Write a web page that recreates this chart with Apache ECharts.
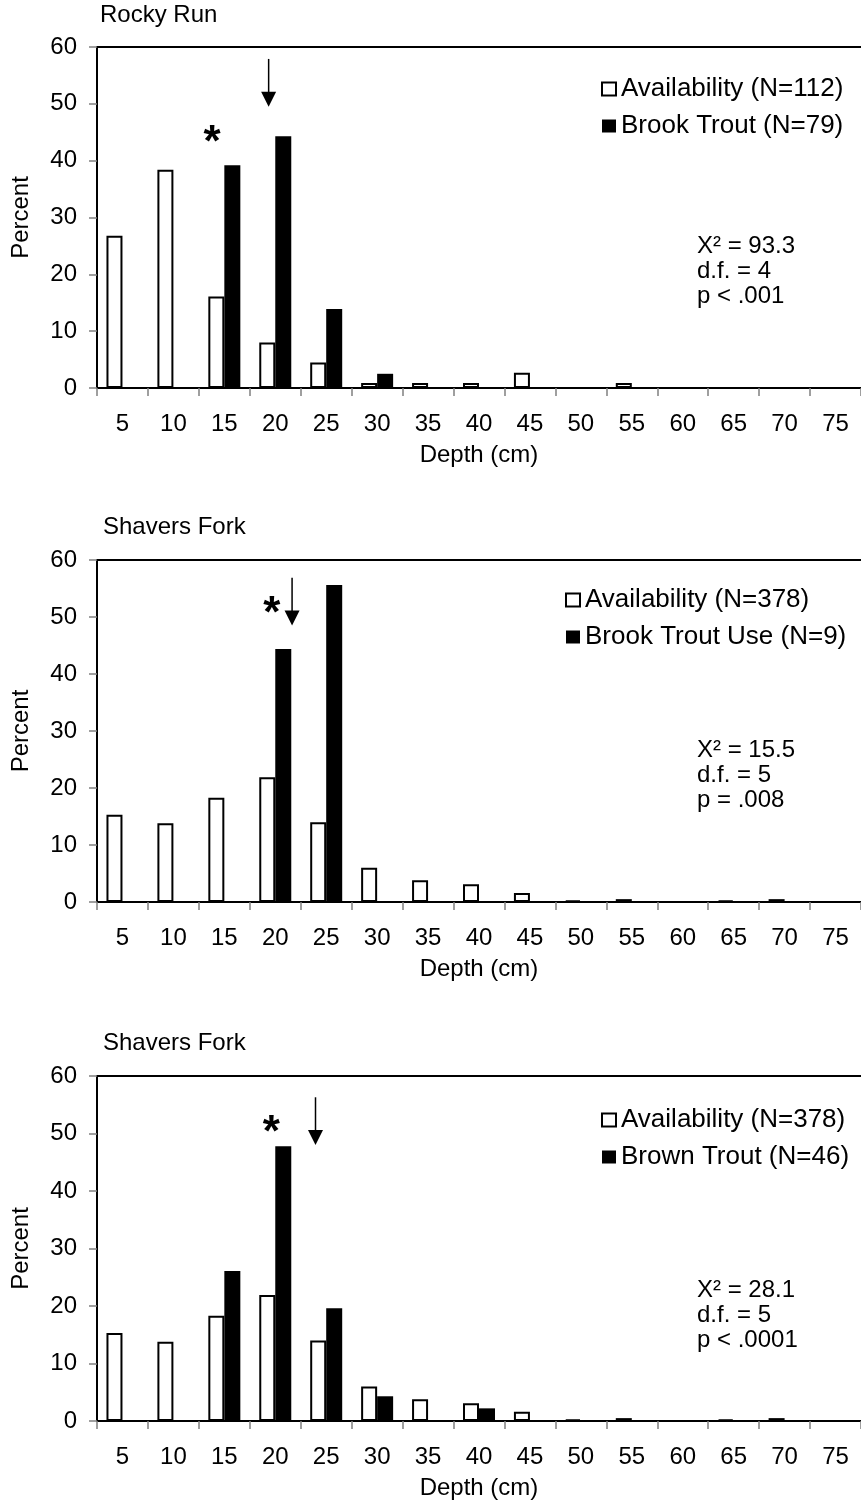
<!DOCTYPE html>
<html>
<head>
<meta charset="utf-8">
<script src="https://cdn.jsdelivr.net/npm/echarts@6/dist/echarts.min.js"></script>
<style>
  html, body { margin: 0; padding: 0; background: #fff; }
  #main { width: 861px; height: 1504px; }
</style>
</head>
<body>
<div id="main"></div>
<script>
// depth classes (cm)
const depths = ['5', '10', '15', '20', '25', '30', '35', '40', '45', '50', '55', '60', '65', '70', '75']
const yTicks = [0, 10, 20, 30, 40, 50, 60]

const titles = ['Rocky Run', 'Shavers Fork', 'Shavers Fork']
const availNames = ['Availability (N=112)', 'Availability (N=378)', 'Availability (N=378)']
const useNames = ['Brook Trout (N=79)', 'Brook Trout Use (N=9)', 'Brown Trout (N=46)']

// percent values
const availRocky = [26.8, 38.4, 16.1, 8.0, 4.5, 0.9, 0.9, 0.9, 2.7, 0, 0.9, 0, 0, 0, 0]
const brookRocky = [0, 0, 39.2, 44.3, 13.9, 2.5, 0, 0, 0, 0, 0, 0, 0, 0, 0]
const availShavers = [15.3, 13.8, 18.3, 21.9, 14.0, 6.0, 3.8, 3.1, 1.6, 0.3, 0.5, 0, 0.3, 0.5, 0]
const brookShavers = [0, 0, 0, 44.4, 55.6, 0, 0, 0, 0, 0, 0, 0, 0, 0, 0]
const brownShavers = [0, 0, 26.1, 47.8, 19.6, 4.3, 0, 2.2, 0, 0, 0, 0, 0, 0, 0]

const stats = [
  ['X² = 93.3', 'd.f. = 4', 'p < .001'],
  ['X² = 15.5', 'd.f. = 5', 'p = .008'],
  ['X² = 28.1', 'd.f. = 5', 'p < .0001']
]
// annotations: arrow (mean depth) and star, in category index / percent
const arrowAt = [2.87, 3.33, 3.79]
const arrowTop = [57.9, 56.9, 56.3]
const arrowTip = [49.5, 48.5, 48.0]
const starAt = [1.76, 2.93, 2.92]
const starVal = [44.7, 52.2, 51.6]

const availData = [availRocky, availShavers, availShavers]
const useData = [brookRocky, brookShavers, brownShavers]

// layout
const gridTops = [47, 560, 1076]
const gridHeights = [341, 342, 345]
const titleTops = [3, 515, 1031]
const titleLefts = [100, 103, 103]
const legendTops = [76, 587, 1107]
const legendLefts = [601, 565, 601]
const statTops = [234, 738, 1278]

const FONT = "'Liberation Sans', Arial, sans-serif"

const chart = echarts.init(document.getElementById('main'), null, { renderer: 'canvas' })

let grid = [], xAxis = [], yAxis = [], series = [], title = [], legend = []
for (let k = 0; k < 3; k++) {
  grid.push({ left: 97, top: gridTops[k], width: 770, height: gridHeights[k], containLabel: false })
  title.push({
    text: titles[k], left: titleLefts[k], top: titleTops[k], padding: 0,
    textStyle: { fontFamily: FONT, fontSize: 24, fontWeight: 'normal', color: '#000' }
  })
  legend.push({
    data: [availNames[k], useNames[k]],
    orient: 'vertical', left: legendLefts[k], top: legendTops[k], padding: 0,
    itemWidth: 14, itemHeight: 13, itemGap: 11, icon: 'rect', selectedMode: false,
    textStyle: { fontFamily: FONT, fontSize: 26, color: '#000' }
  })
  yAxis.push({
    gridIndex: k, type: 'value', min: yTicks[0], max: yTicks[yTicks.length - 1], interval: 10,
    name: 'Percent', nameLocation: 'middle', nameGap: 64,
    nameTextStyle: { fontFamily: FONT, fontSize: 24, color: '#000' },
    axisLine: { show: true, lineStyle: { color: '#000', width: 2 } },
    axisTick: { show: true, length: 8, lineStyle: { color: '#808080', width: 1.5 } },
    axisLabel: { fontFamily: FONT, fontSize: 24, color: '#000', margin: 20 },
    splitLine: { show: false }
  })
}
for (let k = 0; k < 3; k++) {
  xAxis.push({
    gridIndex: k, type: 'category', data: depths, position: 'bottom',
    name: 'Depth (cm)', nameLocation: 'middle', nameGap: 55,
    nameTextStyle: { fontFamily: FONT, fontSize: 24, color: '#000' },
    axisLine: { lineStyle: { color: '#000', width: 2 } },
    axisTick: { show: true, alignWithLabel: false, length: 8, lineStyle: { color: '#808080', width: 1.5 } },
    axisLabel: { fontFamily: FONT, fontSize: 24, color: '#000', margin: 24, interval: 0 }
  })
}
// top frame line
for (let k = 0; k < 3; k++) {
  xAxis.push({
    gridIndex: k, type: 'category', data: depths, position: 'top',
    axisLine: { lineStyle: { color: '#000', width: 2 } },
    axisTick: { show: false }, axisLabel: { show: false }
  })
}
for (let k = 0; k < 3; k++) {
  series.push({
    name: availNames[k], type: 'bar', xAxisIndex: k, yAxisIndex: k,
    data: availData[k], barWidth: 16, barGap: '0%',
    itemStyle: { color: '#fff', borderColor: '#000', borderWidth: 2 }
  })
  series.push({
    name: useNames[k], type: 'bar', xAxisIndex: k, yAxisIndex: k,
    data: useData[k], barWidth: 16, barGap: '0%',
    itemStyle: { color: '#000' }
  })
}

chart.setOption({
  animation: false,
  backgroundColor: '#fff',
  textStyle: { fontFamily: FONT },
  title, legend, grid, xAxis, yAxis, series
})

// annotation graphics placed through the axes
function toPx(k, idx, val) {
  const p0 = chart.convertToPixel({ seriesIndex: 2 * k }, [0, val])
  const p1 = chart.convertToPixel({ seriesIndex: 2 * k }, [1, val])
  return [p0[0] + (p1[0] - p0[0]) * idx, p0[1]]
}
let graphic = []
for (let k = 0; k < 3; k++) {
  const top = toPx(k, arrowAt[k], arrowTop[k])
  const tip = toPx(k, arrowAt[k], arrowTip[k])
  graphic.push({
    type: 'line', shape: { x1: top[0], y1: top[1], x2: tip[0], y2: tip[1] - 12 },
    style: { stroke: '#000', lineWidth: 1.5 }
  })
  graphic.push({
    type: 'polygon', shape: { points: [[tip[0] - 7.5, tip[1] - 15], [tip[0] + 7.5, tip[1] - 15], [tip[0], tip[1]]] },
    style: { fill: '#000' }
  })
  const st = toPx(k, starAt[k], starVal[k])
  graphic.push({
    type: 'text', x: st[0], y: st[1] + 10,
    style: { text: '*', fontFamily: FONT, fontSize: 44, fontWeight: 'bold', fill: '#000', align: 'center', verticalAlign: 'middle' }
  })
  graphic.push({
    type: 'text', x: 697, y: statTops[k],
    style: { text: stats[k].join('\n'), fontFamily: FONT, fontSize: 24, lineHeight: 25, fill: '#000', align: 'left', verticalAlign: 'top' }
  })
}
chart.setOption({ graphic })
</script>
</body>
</html>
